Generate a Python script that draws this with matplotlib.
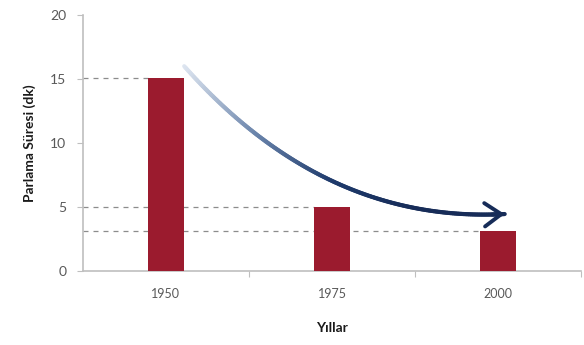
import numpy as np
import matplotlib
matplotlib.use('Agg')
import matplotlib.pyplot as plt
from matplotlib.collections import LineCollection
from matplotlib.colors import LinearSegmentedColormap

years = ['1950', '1975', '2000']
durations = [15.1, 5.0, 3.1]

# trend arrow drawn in data coordinates (start, control, end)
arrow_start = (0.11, 16.0)
arrow_ctrl = (0.95, 3.7)
arrow_end = (2.04, 4.45)

bar_color = '#9b1b2e'
axis_color = '#bfbfbf'
text_color = '#595959'
plt.rcParams['font.family'] = ['Lato', 'DejaVu Sans']

fig = plt.figure(figsize=(5.84, 3.45), dpi=100)
ax = fig.add_axes([0.142, 0.2145, 0.853, 0.742])

x = np.arange(len(years))
width = 0.22
ax.bar(x, durations, width=width, color=bar_color, zorder=3)

for i, v in enumerate(durations):
    ax.hlines(v, -0.5, x[i] - width / 2, colors='#8c8c8c', linestyles=(0, (4, 4)),
              linewidth=0.9, zorder=2)

# curved arrow with gradient
t = np.linspace(0, 1, 200)
p0, p1, p2 = np.array(arrow_start), np.array(arrow_ctrl), np.array(arrow_end)
pts = ((1 - t) ** 2)[:, None] * p0 + (2 * t * (1 - t))[:, None] * p1 + (t ** 2)[:, None] * p2
segs = np.stack([pts[:-1], pts[1:]], axis=1)
cmap = LinearSegmentedColormap.from_list('fade', ['#dde5f0', '#6a84ab', '#1e3a6b', '#172c58', '#172c58'])
lc = LineCollection(segs, cmap=cmap, linewidth=3, capstyle='round', zorder=4)
lc.set_array(t[:-1])
ax.add_collection(lc)
ax.annotate('', xy=arrow_end, xytext=tuple(pts[-8]),
            arrowprops=dict(arrowstyle='->,head_length=0.5,head_width=0.35', color='#172c58',
                            lw=2.8, mutation_scale=24, shrinkA=0, shrinkB=0), zorder=5)

ax.set_xlim(-0.5, 2.5)
ax.set_ylim(0, 20)
ax.set_yticks([0, 5, 10, 15, 20])
ax.set_xticks([0.5, 1.5, 2.5])
ax.set_xticklabels([])
ax.set_xticks(x, minor=True)
ax.set_xticklabels(years, minor=True)
ax.tick_params(axis='x', which='major', length=4, color=axis_color, direction='out')
ax.tick_params(axis='x', which='minor', length=0, pad=12, labelsize=9, labelcolor=text_color)
ax.tick_params(axis='y', length=4, color=axis_color, labelsize=10, labelcolor=text_color, pad=8)

for s in ['top', 'right']:
    ax.spines[s].set_visible(False)
for s in ['left', 'bottom']:
    ax.spines[s].set_color(axis_color)
    ax.spines[s].set_linewidth(1.2)

ax.set_ylabel('Parlama Süresi (dk)', fontsize=10, fontweight='bold', color='#1a1a1a', labelpad=10)
ax.set_xlabel('Yıllar', fontsize=10, fontweight='bold', color='#1a1a1a', labelpad=16)

fig.savefig('out.png', dpi=100)
